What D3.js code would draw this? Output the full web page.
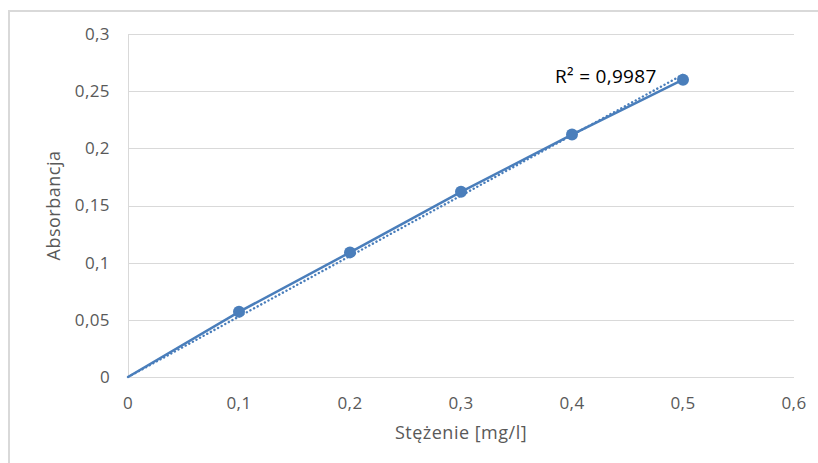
<!DOCTYPE html>
<html>
<head>
<meta charset="utf-8">
<script src="https://cdn.jsdelivr.net/npm/d3@7"></script>
<style>
  body { margin: 0; background: #fff; }
  svg { display: block; font-family: "Open Sans", sans-serif; }
</style>
</head>
<body>
<div id="chart"></div>
<script>
// stężenie [mg/l] i absorbancja
const stezenie = [0, 0.1, 0.2, 0.3, 0.4, 0.5];
const absorbancja = [0, 0.057, 0.109, 0.162, 0.212, 0.260];
const xTicks = [0, 0.1, 0.2, 0.3, 0.4, 0.5, 0.6];
const yTicks = [0, 0.05, 0.1, 0.15, 0.2, 0.25, 0.3];
const r2Label = "R² = 0,9987";

const width = 818, height = 463;
const margin = { top: 34, right: 24, bottom: 86, left: 128 };
const blue = "#4a7ebb";
const grid = "#d9d9d9";

const data = stezenie.map((x, i) => ({ x: x, y: absorbancja[i] }));

const fmt = v => String(+v.toFixed(2)).replace(".", ",");

const svg = d3.select("#chart").append("svg")
  .attr("width", width)
  .attr("height", height);

// ramka wykresu
svg.append("rect")
  .attr("x", 9).attr("y", 11)
  .attr("width", width).attr("height", height)
  .attr("fill", "none")
  .attr("stroke", grid)
  .attr("stroke-width", 2);

const x = d3.scaleLinear().domain([0, 0.6]).range([margin.left, width - margin.right]);
const y = d3.scaleLinear().domain([0, 0.3]).range([height - margin.bottom, margin.top]);

// linie siatki
svg.append("g")
  .selectAll("line")
  .data(yTicks)
  .enter().append("line")
  .attr("x1", x(0)).attr("x2", x(0.6))
  .attr("y1", d => Math.round(y(d)) + 0.5)
  .attr("y2", d => Math.round(y(d)) + 0.5)
  .attr("stroke", grid);

svg.append("line")
  .attr("x1", Math.round(x(0)) + 0.5).attr("x2", Math.round(x(0)) + 0.5)
  .attr("y1", y(0.3)).attr("y2", y(0))
  .attr("stroke", grid);

// etykiety osi
svg.append("g")
  .selectAll("text")
  .data(yTicks)
  .enter().append("text")
  .attr("x", x(0) - 18)
  .attr("y", d => y(d))
  .attr("dy", "0.35em")
  .attr("text-anchor", "end")
  .attr("fill", "#595959")
  .style("font-size", "17px")
  .style("letter-spacing", "0.4px")
  .text(fmt);

svg.append("g")
  .selectAll("text")
  .data(xTicks)
  .enter().append("text")
  .attr("x", d => x(d))
  .attr("y", y(0) + 26)
  .attr("dy", "0.35em")
  .attr("text-anchor", "middle")
  .attr("fill", "#595959")
  .style("font-size", "17px")
  .style("letter-spacing", "0.4px")
  .text(fmt);

svg.append("text")
  .attr("x", (x(0) + x(0.6)) / 2)
  .attr("y", y(0) + 56)
  .attr("dy", "0.35em")
  .attr("text-anchor", "middle")
  .attr("fill", "#595959")
  .style("font-size", "18px")
  .style("letter-spacing", "0.5px")
  .text("Stężenie [mg/l]");

svg.append("text")
  .attr("transform", `translate(54,${(y(0) + y(0.3)) / 2}) rotate(-90)`)
  .attr("dy", "0.35em")
  .attr("text-anchor", "middle")
  .attr("fill", "#595959")
  .style("font-size", "18px")
  .style("letter-spacing", "0.5px")
  .text("Absorbancja");

// linia trendu (regresja przez zero)
const slope = d3.sum(data, d => d.x * d.y) / d3.sum(data, d => d.x * d.x);
const xMax = d3.max(stezenie);

svg.append("line")
  .attr("x1", x(0)).attr("y1", y(0))
  .attr("x2", x(xMax)).attr("y2", y(slope * xMax))
  .attr("stroke", blue)
  .attr("stroke-width", 2.4)
  .attr("stroke-linecap", "round")
  .attr("stroke-dasharray", "0.1 4");

// seria danych
const line = d3.line().x(d => x(d.x)).y(d => y(d.y));

svg.append("path")
  .datum(data)
  .attr("d", line)
  .attr("fill", "none")
  .attr("stroke", blue)
  .attr("stroke-width", 2.5);

svg.selectAll(".pt")
  .data(data.filter(d => d.x > 0))
  .enter().append("circle")
  .attr("class", "pt")
  .attr("cx", d => x(d.x))
  .attr("cy", d => y(d.y))
  .attr("r", 6)
  .attr("fill", blue);

svg.append("text")
  .attr("x", 555)
  .attr("y", 76)
  .attr("dy", "0.35em")
  .attr("fill", "#000")
  .style("font-size", "19px")
  .style("letter-spacing", "0.3px")
  .text(r2Label);
</script>
</body>
</html>
